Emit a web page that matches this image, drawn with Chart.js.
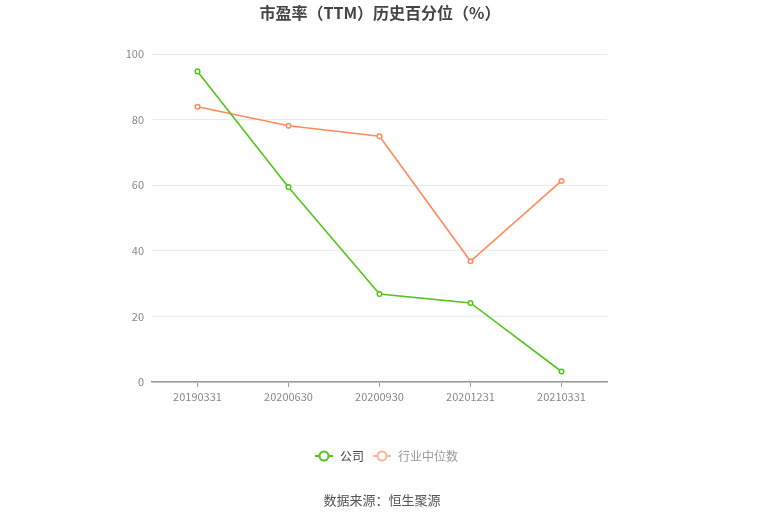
<!DOCTYPE html>
<html>
<head>
<meta charset="utf-8">
<script src="https://cdn.jsdelivr.net/npm/chart.js@4"></script>
<style>
  html, body { margin: 0; padding: 0; background: #fff; }
  #wrap { width: 765px; height: 517px; position: relative; }
</style>
</head>
<body>
<div id="wrap"><canvas id="peChart"></canvas></div>
<script>
const categories = ["20190331", "20200630", "20200930", "20201231", "20210331"];
const gongsi = [94.7, 59.4, 26.8, 24.1, 3.2];
const hangye = [83.9, 78.1, 74.9, 36.8, 61.3];
const yTicks = [0, 20, 40, 60, 80, 100];

const titleText = "市盈率（TTM）历史百分位（%）";
const sourceText = "数据来源：恒生聚源";
const fontFamily = "'Noto Sans CJK SC', 'Noto Sans', sans-serif";

const green = "#52c41a";
const orange = "#ff8a5b";

// titel, legenda en bron zelf tekenen voor precieze plaatsing
const tekstPlugin = {
    id: "tekstPlugin",
    afterDraw(chart) {
        const ctx = chart.ctx;
        ctx.save();
        ctx.textBaseline = "middle";

        ctx.font = "bold 16px " + fontFamily;
        ctx.fillStyle = "#444";
        ctx.textAlign = "center";
        ctx.fillText(titleText, 380, 13);

        // legenda
        const items = [
            { label: "公司", color: green, text: "#444", x: 315 },
            { label: "行业中位数", color: "#ffb596", text: "#999", x: 373 }
        ];
        items.forEach(it => {
            const y = 456;
            ctx.strokeStyle = it.color;
            ctx.lineWidth = 2;
            ctx.beginPath();
            ctx.moveTo(it.x, y);
            ctx.lineTo(it.x + 18, y);
            ctx.stroke();
            ctx.beginPath();
            ctx.arc(it.x + 9, y, 4.5, 0, Math.PI * 2);
            ctx.fillStyle = "#fff";
            ctx.fill();
            ctx.stroke();
            ctx.font = "12px " + fontFamily;
            ctx.fillStyle = it.text;
            ctx.textAlign = "left";
            ctx.fillText(it.label, it.x + 25, y);
        });

        ctx.font = "13px " + fontFamily;
        ctx.fillStyle = "#555";
        ctx.textAlign = "center";
        ctx.fillText(sourceText, 382, 500);
        ctx.restore();
    }
};

new Chart(document.getElementById("peChart"), {
    type: "line",
    data: {
        labels: categories,
        datasets: [
            {
                label: "公司",
                data: gongsi,
                borderColor: green,
                backgroundColor: "#fff",
                borderWidth: 1.6,
                pointRadius: 2.3,
                pointBorderWidth: 1.5,
                tension: 0
            },
            {
                label: "行业中位数",
                data: hangye,
                borderColor: orange,
                backgroundColor: "#fff",
                borderWidth: 1.6,
                pointRadius: 2.3,
                pointBorderWidth: 1.5,
                tension: 0
            }
        ]
    },
    options: {
        responsive: true,
        maintainAspectRatio: false,
        animation: false,
        layout: {
            padding: { left: 112, right: 158, top: 54, bottom: 105 }
        },
        plugins: {
            legend: { display: false },
            title: { display: false },
            tooltip: { enabled: false }
        },
        scales: {
            x: {
                offset: true,
                afterFit: s => { s.height = 30; },
                grid: {
                    offset: false,
                    drawOnChartArea: false,
                    drawTicks: true,
                    tickLength: 5,
                    color: "#999"
                },
                border: { color: "#999", width: 1.5 },
                ticks: {
                    color: "#888",
                    padding: 3,
                    maxRotation: 0,
                    font: { size: 11, family: fontFamily }
                }
            },
            y: {
                min: 0,
                max: 100,
                afterFit: s => { s.width = 40; },
                afterBuildTicks: s => { s.ticks = yTicks.map(v => ({ value: v })); },
                grid: { color: "#e8eaf1", drawTicks: false },
                border: { display: false },
                ticks: {
                    color: "#888",
                    padding: 8,
                    font: { size: 11, family: fontFamily }
                }
            }
        }
    },
    plugins: [tekstPlugin]
});
</script>
</body>
</html>
